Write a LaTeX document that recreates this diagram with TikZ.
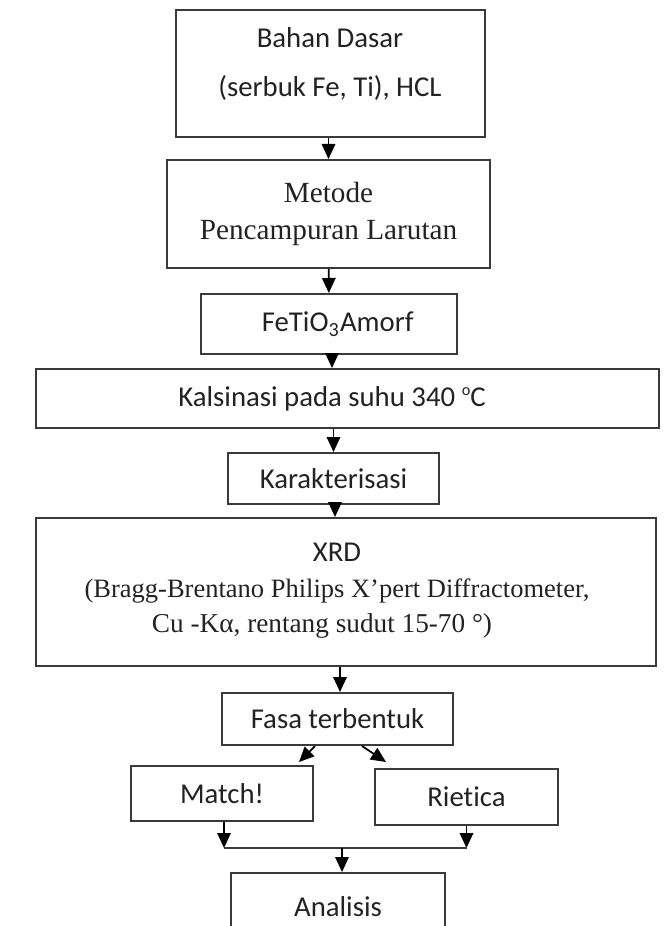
\documentclass[tikz,border=0pt]{standalone}
\usepackage{fontspec}
\setmainfont{Carlito}[Ligatures={NoCommon,NoContextual}]
\newfontfamily\serif{Liberation Serif}
\usetikzlibrary{arrows.meta}
\definecolor{linegray}{HTML}{3A3A3A}
\definecolor{textgray}{HTML}{222222}

\tikzset{
  box/.style={draw=linegray, line width=0.8pt, inner sep=0pt, align=center,
    text=textgray, font=\fontsize{11.5}{19.6}\selectfont},
  txt/.style={inner sep=0pt, align=center, text=textgray},
  arr/.style={-{Triangle[width=5.4pt,length=6pt]}, line width=0.7pt},
}

\begin{document}
\begin{tikzpicture}[x=0.4pt, y=-0.4pt]
            \useasboundingbox (0,0) rectangle (667,926);

            \node[box, minimum width=123.6pt, minimum height=50.8pt] (b1) at (330.5,73.5) {};
            \node[txt, font=\fontsize{11.5}{19.6}\selectfont] (t1) at (330,64.5) {Bahan Dasar\\(serbuk Fe, Ti), HCL};
            \node[box, minimum width=129.2pt, minimum height=43.2pt, font=\serif\fontsize{11.7}{14.8}\selectfont] (b2) at (328.5,214) {Metode\\Pencampuran Larutan};
            \node[box, minimum width=102.4pt, minimum height=24pt] (b3) at (329,324) {\hspace*{7pt}FeTiO\textsubscript{3}Amorf};
            \node[box, minimum width=249.2pt, minimum height=23.6pt] (b4) at (347.5,398.5) {Kalsinasi pada suhu 340 \raisebox{4.2pt}{\fontsize{6.5}{7}\selectfont o}C\hspace*{12.4pt}};
            \node[box, minimum width=84.4pt, minimum height=20.4pt] (b5) at (333.5,478.5) {Karakterisasi};
            \node[box, minimum width=248pt, minimum height=59.2pt] (b6) at (346,592) {};
            \node[txt, font=\fontsize{11.5}{14.2}\selectfont] (t6) at (337,591) {XRD\\
              {\serif\fontsize{10.6}{14.2}\selectfont (Bragg-Brentano Philips X’pert Diffractometer,}\\
              {\serif\fontsize{10.9}{14.2}\selectfont Cu -Kα, rentang sudut 15-70 °)\hspace*{12pt}}};
            \node[box, minimum width=92.4pt, minimum height=20.8pt] (b7) at (337.5,719) {Fasa terbentuk};
            \node[box, minimum width=72.8pt, minimum height=22pt] (b8) at (222,793.5) {Match!};
            \node[box, minimum width=73.2pt, minimum height=22.4pt] (b9) at (466.5,797) {Rietica};
            \node[box, minimum width=85.6pt, minimum height=26.8pt] (b10) at (338,906.5) {Analisis};

            \coordinate (j) at (342,848);

            \draw[arr] (b1.south -| b2.north) -- (b2.north);
            \draw[arr] (b2) -- (b3);
            \draw[arr] ([xshift=1.2pt]b3.south) -- ([xshift=1.2pt]b3.south |- b4.north);
            \draw[arr] (b5.north |- b4.south) -- (b5.north);
            \draw[arr] ([xshift=0.6pt]b5.south) -- ([xshift=0.6pt]b5.south |- b6.north);
            \draw[arr] ([xshift=1pt]b7.north |- b6.south) -- ([xshift=1pt]b7.north);

            \draw[arr] ([xshift=-9pt]b7.south) -- ([xshift=-6pt,yshift=1.2pt]b8.north east);
            \draw[arr] ([xshift=9.8pt]b7.south) -- ([xshift=4.8pt,yshift=2.4pt]b9.north west);

            \draw[arr] ([xshift=0.8pt]b8.south) -- ([xshift=0.8pt]b8.south |- j);
            \draw[arr] (b9.south) -- (b9.south |- j);
            \draw[linegray, line width=0.8pt] ([xshift=0.8pt]b8.south |- j) -- (b9.south |- j);
            \draw[arr] (j) -- (j |- b10.north);

        \end{tikzpicture}
\end{document}
